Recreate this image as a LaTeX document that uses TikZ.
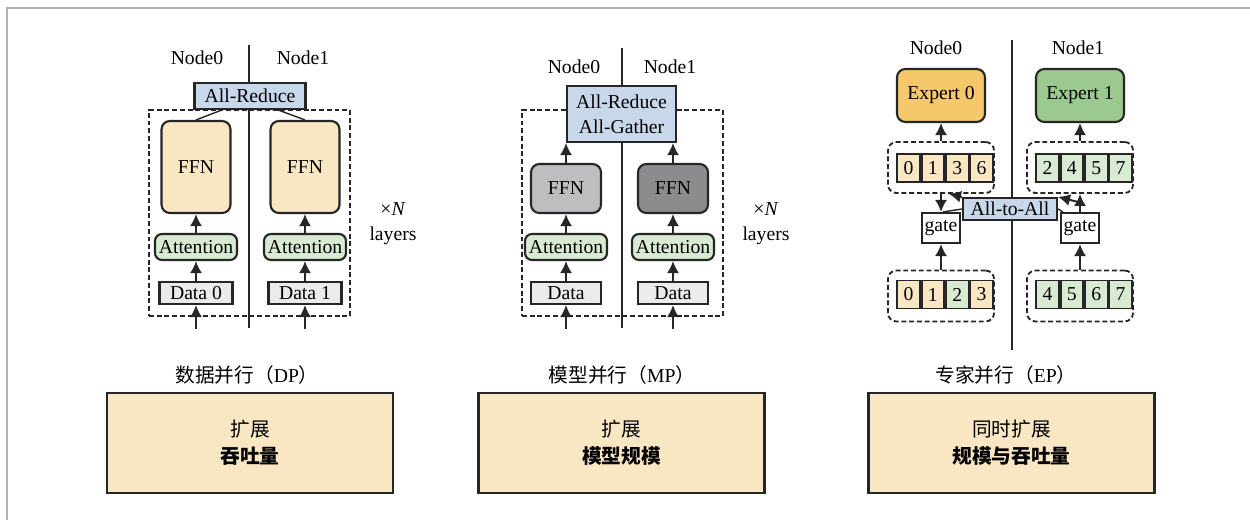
\documentclass[tikz,border=0pt]{standalone}
\usepackage{fontspec}
\setmainfont{Liberation Serif}
\newfontfamily\cjk{Noto Sans CJK SC}
\usetikzlibrary{positioning,calc,arrows.meta}

\definecolor{ffnyellow}{HTML}{F9E7C3}
\definecolor{attgreen}{HTML}{D9EAD3}
\definecolor{datagray}{HTML}{EBEBEB}
\definecolor{commblue}{HTML}{C8D7EA}
\definecolor{expyellow}{HTML}{F5C96B}
\definecolor{expgreen}{HTML}{9CC990}
\definecolor{ffngray}{HTML}{BEBEC0}
\definecolor{ffndark}{HTML}{8C8C8E}
\definecolor{linegray}{HTML}{262626}

\begin{document}
\begin{tikzpicture}[x=0.025cm, y=-0.025cm,
      font=\fontsize{14}{16}\selectfont,
      box/.style={draw=linegray, line width=1.5pt, inner sep=1pt, align=center},
      ffn/.style={box, rounded corners=6pt, fill=ffnyellow},
      attn/.style={box, rounded corners=5pt, fill=attgreen, minimum width=2.05cm, minimum height=0.65cm},
      data/.style={box, fill=datagray, minimum height=0.55cm},
      comm/.style={box, fill=commblue},
      layer/.style={draw=linegray, line width=1.3pt, dash pattern=on 3.5pt off 2pt, minimum width=5.025cm, minimum height=5.15cm},
      group/.style={layer, rounded corners=6pt, minimum width=2.65cm, minimum height=1.275cm},
      cell/.style={box, line width=1.3pt, minimum width=0.5625cm, minimum height=0.7cm, inner sep=0pt},
      arr/.style={-{Latex[length=8.5pt,width=8.5pt]}, line width=1.3pt, draw=linegray},
      split/.style={line width=1pt, draw=linegray},
      summary/.style={box, fill=ffnyellow, minimum width=7.15cm, minimum height=2.5cm}]
    \useasboundingbox (0,0) rectangle (1250,520);
    \draw[gray!60, line width=1.2pt] (7,520) -- (7,8) -- (1250,8);

    % data parallel
    \draw[split] (249,45) -- (249,328);
    \node (dp-n0) at (197,58) {Node0};
    \node (dp-n1) at (303,58) {Node1};
    \node[layer] (dp-layer) at (249.5,213) {};
    \node[comm, minimum width=2.775cm, minimum height=0.65cm] (dp-ar) at (250,96) {All-Reduce};
    \node[ffn, minimum width=1.725cm, minimum height=2.3cm] (dp-f0) at (196,167) {FFN};
    \node[ffn, minimum width=1.725cm, minimum height=2.3cm] (dp-f1) at (305,167) {FFN};
    \node[attn] (dp-a0) at (196,247) {Attention};
    \node[attn] (dp-a1) at (305,247) {Attention};
    \node[data, minimum width=1.825cm] (dp-d0) at (196,293) {Data 0};
    \node[data, minimum width=1.825cm] (dp-d1) at (305,293) {Data 1};
    \coordinate (dp-in0) at ($(dp-d0.south)+(0,24)$);
    \coordinate (dp-in1) at ($(dp-d1.south)+(0,24)$);
    \draw[arr] (dp-in0) -- (dp-d0);
    \draw[arr] (dp-in1) -- (dp-d1);
    \draw[arr] (dp-d0) -- (dp-a0);
    \draw[arr] (dp-d1) -- (dp-a1);
    \draw[arr] (dp-a0) -- (dp-f0);
    \draw[arr] (dp-a1) -- (dp-f1);
    \draw[split] (dp-f0.north) -- ($(dp-ar.south west)!0.25!(dp-ar.south east)$);
    \draw[split] (dp-f1.north) -- ($(dp-ar.south west)!0.75!(dp-ar.south east)$);
    \node[align=center] (dp-rep) at (393,224) {×\textit{N}\\[2pt]layers};

    % model parallel
    \draw[split] (622,48) -- (622,328);
    \node (mp-n0) at (574,67) {Node0};
    \node (mp-n1) at (670,67) {Node1};
    \node[layer] (mp-layer) at (622.5,213) {};
    \node[comm, minimum width=2.725cm, minimum height=1.4cm] (mp-ag) at (621.5,114) {All-Reduce\\[2pt]All-Gather};
    \node[ffn, fill=ffngray, minimum width=1.75cm, minimum height=1.225cm] (mp-f0) at (566,188.5) {FFN};
    \node[ffn, fill=ffndark, minimum width=1.75cm, minimum height=1.225cm] (mp-f1) at (673,188.5) {FFN};
    \node[attn] (mp-a0) at (566,247) {Attention};
    \node[attn] (mp-a1) at (673,247) {Attention};
    \node[data, minimum width=1.75cm] (mp-d0) at (566,293) {Data};
    \node[data, minimum width=1.75cm] (mp-d1) at (673,293) {Data};
    \coordinate (mp-in0) at ($(mp-d0.south)+(0,24)$);
    \coordinate (mp-in1) at ($(mp-d1.south)+(0,24)$);
    \draw[arr] (mp-in0) -- (mp-d0);
    \draw[arr] (mp-in1) -- (mp-d1);
    \draw[arr] (mp-d0) -- (mp-a0);
    \draw[arr] (mp-d1) -- (mp-a1);
    \draw[arr] (mp-a0) -- (mp-f0);
    \draw[arr] (mp-a1) -- (mp-f1);
    \draw[arr] (mp-f0) -- (mp-f0 |- mp-ag.south);
    \draw[arr] (mp-f1) -- (mp-f1 |- mp-ag.south);
    \node[align=center] (mp-rep) at (766,224) {×\textit{N}\\[2pt]layers};

    % expert parallel
    \draw[split] (1012,40) -- (1012,350);
    \node (ep-n0) at (936,48) {Node0};
    \node (ep-n1) at (1078,48) {Node1};
    \node[box, rounded corners=6pt, fill=expyellow, minimum width=2.2cm, minimum height=1.325cm] (ep-e0) at (941,95.5) {Expert 0};
    \node[box, rounded corners=6pt, fill=expgreen, minimum width=2.2cm, minimum height=1.325cm] (ep-e1) at (1080,95.5) {Expert 1};
    \node[group] (ep-g0) at (941,167.5) {};
    \node[group] (ep-g1) at (1080,167.5) {};
    \node[group] (ep-g0b) at (941,296) {};
    \node[group] (ep-g1b) at (1080,296) {};
    \node[cell, fill=ffnyellow] (ep-t0a) at (908.5,168) {0};
    \node[cell, fill=ffnyellow, right=0pt of ep-t0a] (ep-t0b) {1};
    \node[cell, fill=ffnyellow, right=0pt of ep-t0b] (ep-t0c) {3};
    \node[cell, fill=ffnyellow, right=0pt of ep-t0c] (ep-t0d) {6};
    \node[cell, fill=attgreen] (ep-t1a) at (1047.5,168) {2};
    \node[cell, fill=attgreen, right=0pt of ep-t1a] (ep-t1b) {4};
    \node[cell, fill=attgreen, right=0pt of ep-t1b] (ep-t1c) {5};
    \node[cell, fill=attgreen, right=0pt of ep-t1c] (ep-t1d) {7};
    \node[cell, fill=ffnyellow] (ep-b0a) at (908.5,294.5) {0};
    \node[cell, fill=ffnyellow, right=0pt of ep-b0a] (ep-b0b) {1};
    \node[cell, fill=attgreen, right=0pt of ep-b0b] (ep-b0c) {2};
    \node[cell, fill=ffnyellow, right=0pt of ep-b0c] (ep-b0d) {3};
    \node[cell, fill=attgreen] (ep-b1a) at (1047.5,294.5) {4};
    \node[cell, fill=attgreen, right=0pt of ep-b1a] (ep-b1b) {5};
    \node[cell, fill=attgreen, right=0pt of ep-b1b] (ep-b1c) {6};
    \node[cell, fill=attgreen, right=0pt of ep-b1c] (ep-b1d) {7};
    \node[box, fill=white, minimum width=0.95cm, minimum height=0.75cm] (ep-gate0) at (941,228) {gate};
    \node[box, fill=white, minimum width=0.95cm, minimum height=0.75cm] (ep-gate1) at (1080,228) {gate};
    \node[comm, minimum width=2.35cm, minimum height=0.55cm] (ep-a2a) at (1010,209) {All-to-All};
    \coordinate (ep-x0) at ($(ep-g0.south)+(8,0)$);
    \coordinate (ep-x1) at ($(ep-gate1.north)+(-2,-10)$);
    \draw[arr] (ep-g0b) -- (ep-gate0);
    \draw[arr] (ep-g1b) -- (ep-gate1);
    \draw[arr] (ep-g0) -- (ep-gate0);
    \draw[arr] (ep-gate1) -- (ep-g1);
    \draw[arr] (ep-g0) -- (ep-e0);
    \draw[arr] (ep-g1) -- (ep-e1);
    \draw[split] ($(ep-gate0.north)+(2,0)$) -- (ep-a2a.west);
    \draw[split] (ep-a2a.east) -- ($(ep-gate1.north west)+(3,0)$);
    \draw[arr] (ep-a2a.north west) -- (ep-x0);
    \draw[arr] (ep-x1) -- (ep-a2a.north east);

    % summary
    \node (dp-title) at (247,375) {{\cjk 数据并行（}DP{\cjk ）}};
    \node (mp-title) at (622,375) {{\cjk 模型并行（}MP{\cjk ）}};
    \node (ep-title) at (1006,375) {{\cjk 专家并行（}EP{\cjk ）}};
    \node[summary] (dp-sum) at (250,443) {{\cjk 扩展}\\[3pt]{\cjk\bfseries 吞吐量}};
    \node[summary] (mp-sum) at (621.5,443) {{\cjk 扩展}\\[3pt]{\cjk\bfseries 模型规模}};
    \node[summary] (ep-sum) at (1011.5,443) {{\cjk 同时扩展}\\[3pt]{\cjk\bfseries 规模与吞吐量}};
  \end{tikzpicture}
\end{document}
